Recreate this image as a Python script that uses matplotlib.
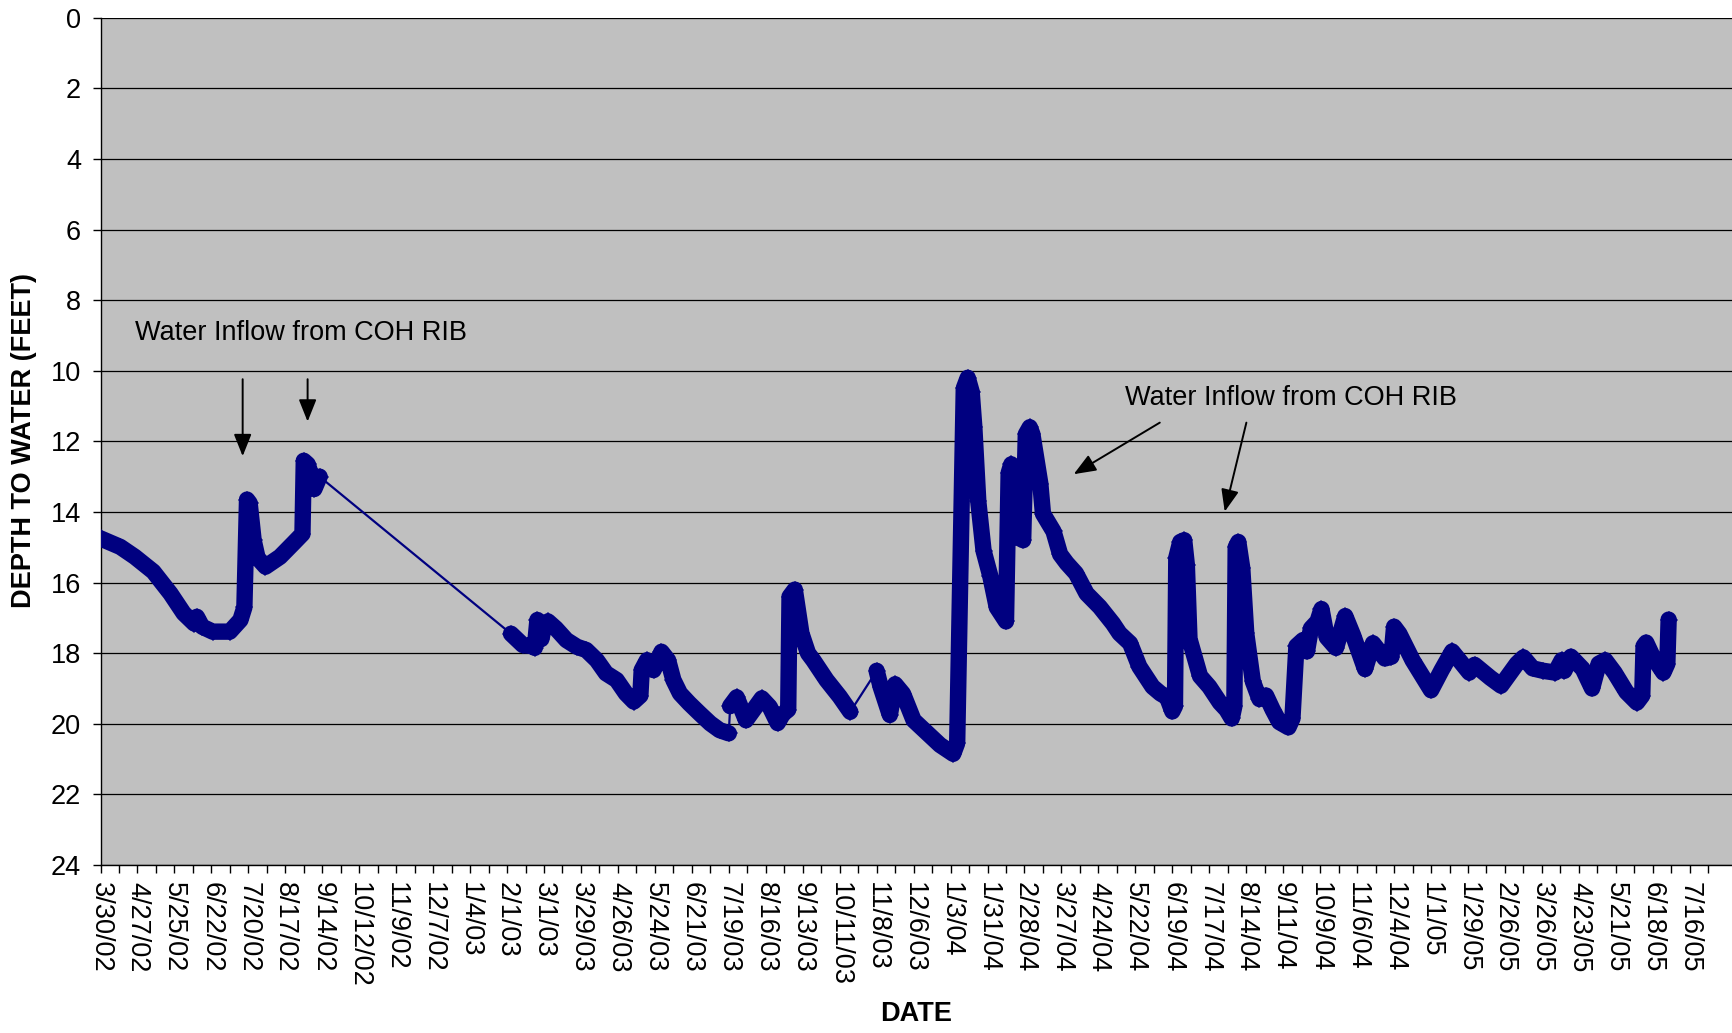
import matplotlib
matplotlib.use('Agg')
import matplotlib.pyplot as plt
import matplotlib.dates as mdates
from matplotlib.ticker import FixedLocator, FuncFormatter
import numpy as np

plt.rcParams['font.family'] = ['Liberation Sans', 'DejaVu Sans']

# ---------------- data ----------------
START = '2002-03-30'          # first reading; x values are days since this date
X_END_DAYS = 1236             # right edge of plot area

# continuous logger segments (days since START, depth to water in feet)
SEG1_DAYS = [0, 15, 26, 40, 53, 63, 71, 73, 77, 85, 98, 106, 109, 111, 113, 116,
             119, 125, 136, 146, 153, 154, 157, 160, 162, 166]
SEG1_DEPTH = [14.75, 14.99, 15.27, 15.69, 16.31, 16.87, 17.16, 16.97, 17.25, 17.39,
              17.39, 17.06, 16.7, 13.65, 13.75, 14.8, 15.3, 15.55, 15.27, 14.89,
              14.62, 12.55, 12.65, 13.0, 13.35, 13.0]

SEG2_DAYS = [311, 320, 327, 329, 331, 334, 336, 339, 345, 353, 361, 368, 376, 383,
             391, 398, 404, 409, 410, 414, 419, 425, 430, 434, 439, 446, 454, 462,
             469, 476]
SEG2_DEPTH = [17.45, 17.77, 17.8, 17.85, 17.06, 17.6, 17.25, 17.1, 17.3, 17.63,
              17.82, 17.91, 18.2, 18.57, 18.76, 19.14, 19.37, 19.2, 18.48, 18.2,
              18.48, 17.96, 18.2, 18.76, 19.14, 19.42, 19.71, 19.99, 20.18, 20.27]

SEG3_DAYS = [477, 482, 489, 501, 507, 513, 517, 521, 522, 526, 531, 536, 540, 550,
             560, 568]
SEG3_DEPTH = [19.5, 19.25, 19.9, 19.28, 19.52, 19.98, 19.72, 19.6, 16.4, 16.2,
              17.44, 18.0, 18.2, 18.76, 19.23, 19.66]

SEG4_DAYS = [588, 591, 598, 602, 608, 616, 626, 636, 646, 649, 654, 657, 660, 662,
             665, 669, 674, 679, 686, 688, 690, 692, 694, 699, 701, 704, 706, 712,
             714, 722, 727, 732, 739, 747, 757, 767, 772, 780, 787, 797, 803, 808,
             812, 814, 815, 818, 821, 823, 825, 833, 840, 848, 853, 857, 859, 860,
             862, 865, 868, 873, 878, 883, 888, 893, 900, 903, 906, 911, 914, 917,
             922, 925, 929, 936, 943, 949, 958, 964, 973, 978, 980, 984, 994, 1008,
             1016, 1024, 1037, 1041, 1053, 1061, 1073, 1078, 1085, 1093, 1102, 1107,
             1109, 1114, 1123, 1130, 1135, 1140, 1147, 1156, 1164, 1168, 1169, 1171,
             1176, 1184, 1187, 1188]
SEG4_DEPTH = [18.5, 18.95, 19.75, 18.88, 19.15, 19.9, 20.25, 20.6, 20.85, 20.55,
              10.5, 10.2, 10.6, 11.6, 13.7, 15.1, 15.8, 16.7, 17.1, 12.9, 12.65,
              13.5, 14.7, 14.8, 11.8, 11.6, 11.8, 13.2, 14.05, 14.55, 15.2, 15.45,
              15.74, 16.31, 16.69, 17.16, 17.44, 17.72, 18.38, 18.95, 19.14, 19.25,
              19.65, 19.5, 15.3, 14.85, 14.8, 15.5, 17.6, 18.65, 18.95, 19.4, 19.6,
              19.85, 19.5, 15.0, 14.85, 15.6, 17.44, 18.8, 19.3, 19.2, 19.6, 19.95,
              20.1, 19.85, 17.8, 17.63, 17.95, 17.3, 17.1, 16.75, 17.55, 17.85,
              16.95, 17.5, 18.45, 17.72, 18.15, 18.1, 17.25, 17.45, 18.2, 19.05,
              18.48, 17.95, 18.55, 18.33, 18.7, 18.92, 18.3, 18.12, 18.43, 18.5,
              18.55, 18.2, 18.5, 18.1, 18.45, 19.0, 18.3, 18.2, 18.55, 19.1, 19.4,
              19.2, 17.8, 17.7, 18.1, 18.55, 18.3, 17.05]

SEGMENTS = [(SEG1_DAYS, SEG1_DEPTH), (SEG2_DAYS, SEG2_DEPTH),
            (SEG3_DAYS, SEG3_DEPTH), (SEG4_DAYS, SEG4_DEPTH)]

ANNOT_TEXT = 'Water Inflow from COH RIB'
Y_LABEL = 'DEPTH TO WATER (FEET)'
X_LABEL = 'DATE'

# ---------------- figure ----------------
W, H = 1732, 1033
fig = plt.figure(figsize=(W / 100, H / 100), dpi=100)
left_px, right_px, top_px, bottom_px = 100.5, 1732, 17.7, 865
ax = fig.add_axes([left_px / W, (H - bottom_px) / H,
                   (right_px - left_px) / W, (bottom_px - top_px) / H])
ax.set_facecolor('#C0C0C0')

t0 = mdates.datestr2num(START)
navy = '#000080'

# thin connecting line through all readings (shows across data gaps)
all_x = np.concatenate([t0 + np.array(d, float) for d, _ in SEGMENTS])
all_y = np.concatenate([np.array(v, float) for _, v in SEGMENTS])
ax.plot(all_x, all_y, color=navy, lw=1.6, zorder=3)

# thick logger traces
for d, v in SEGMENTS:
    ax.plot(t0 + np.array(d, float), v, color=navy, lw=11.8,
            solid_joinstyle='round', solid_capstyle='round',
            marker='D', markersize=9.2, markeredgewidth=0, zorder=4)

# axes
ax.set_ylim(24, 0)
ax.set_yticks(np.arange(0, 25, 2))
ax.set_xlim(t0, t0 + X_END_DAYS)
ax.xaxis.set_major_locator(FixedLocator(t0 + np.arange(0, 1205, 28)))
ax.xaxis.set_minor_locator(FixedLocator(t0 + np.arange(14, 1232, 28)))


def fmt(x, pos):
    d = mdates.num2date(x)
    return f"{d.month}/{d.day}/{d.strftime('%y')}"


ax.xaxis.set_major_formatter(FuncFormatter(fmt))
ax.tick_params(axis='x', which='both', direction='out', length=6, width=1,
               color='black')
ax.tick_params(axis='x', which='major', labelsize=19.5, pad=6,
               labelrotation=-90)
ax.tick_params(axis='y', which='major', direction='out', length=6, width=1,
               labelsize=19.5, pad=8)
for lab in ax.get_xticklabels():
    lab.set_ha('center')
    lab.set_va('top')

ax.grid(axis='y', color='black', lw=0.9, zorder=1)
ax.set_axisbelow(True)
for s in ['top', 'right']:
    ax.spines[s].set_visible(False)
for s in ['left', 'bottom']:
    ax.spines[s].set_color('black')
    ax.spines[s].set_linewidth(1.0)

fig.text(24 / W, 1 - 441 / H, Y_LABEL, rotation=90, ha='center', va='center',
         fontsize=19.5, fontweight='bold')
fig.text(916 / W, 1 - 1014 / H, X_LABEL, ha='center', va='center',
         fontsize=19.5, fontweight='bold')

# annotations
ax.text(t0 + 26, 8.92, ANNOT_TEXT, ha='left', va='center', fontsize=19.5)
ax.text(t0 + 776.4, 10.76, ANNOT_TEXT, ha='left', va='center', fontsize=19.5)

arrow_kw = dict(arrowstyle='-|>,head_length=0.75,head_width=0.3',
                mutation_scale=18, lw=1.4, color='black',
                shrinkA=0, shrinkB=0)
arrows = [((107.7, 10.24), (107.7, 12.42)),
          ((156.9, 10.24), (156.9, 11.44)),
          ((802.5, 11.47), (737.3, 12.93)),
          ((868.1, 11.47), (851.7, 13.99))]
for (x1, y1), (x2, y2) in arrows:
    ax.annotate('', xy=(t0 + x2, y2), xytext=(t0 + x1, y1),
                arrowprops=arrow_kw, zorder=5)

fig.savefig('out.png', dpi=100, facecolor='white')
